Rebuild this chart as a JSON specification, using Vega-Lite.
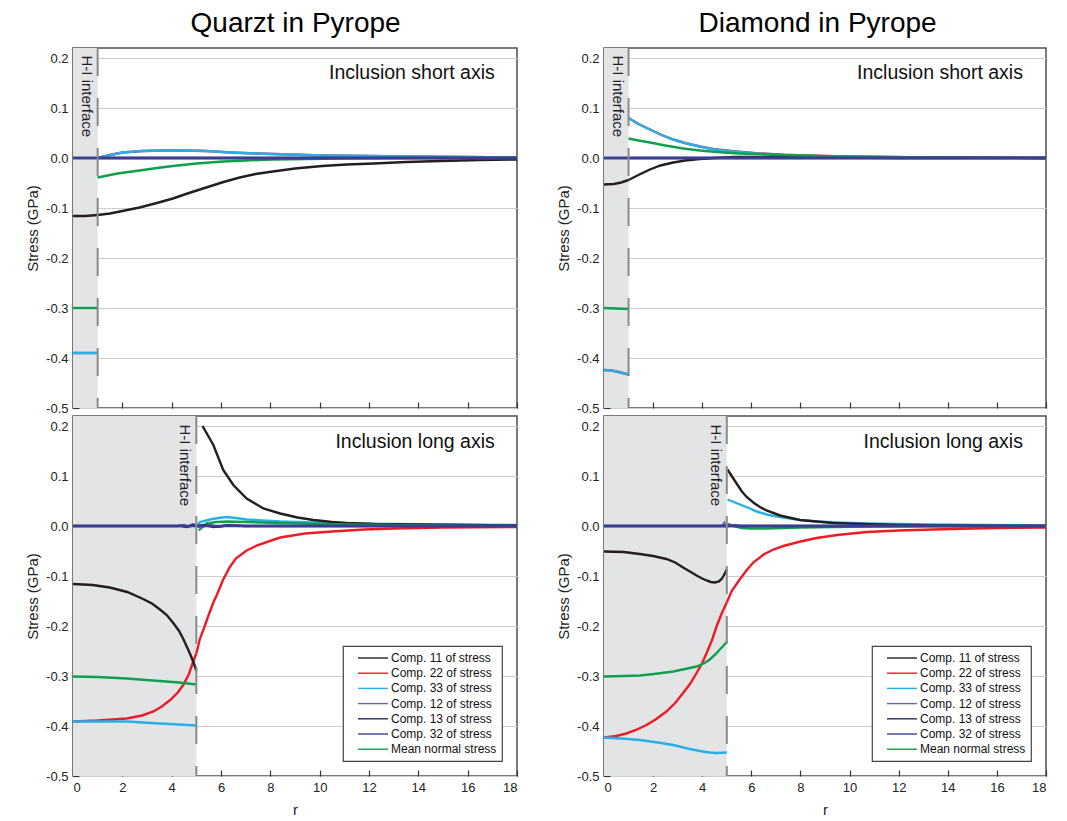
{
  "$schema": "https://vega.github.io/schema/vega-lite/v6.json",
  "background": "white",
  "padding": {"left": 24, "top": 10, "right": 8, "bottom": 0},
  "config": {
    "font": "Liberation Sans",
    "view": {"stroke": "#4d4d4d", "strokeWidth": 1.5},
    "axis": {"domain": false, "tickColor": "#333", "tickSize": -6, "tickWidth": 1.2, "labelFontSize": 13, "labelColor": "#222", "titleFontSize": 15, "titleFontWeight": "normal", "titleColor": "#222"},
    "axisX": {"labelPadding": 11, "titlePadding": 8, "grid": false},
    "axisY": {"labelPadding": 11, "titlePadding": 5},
    "legend": {"orient": "bottom-right", "offset": 15, "strokeColor": "#444", "strokeWidth": 1.2, "padding": 5, "symbolType": "M-1,0H4", "symbolSize": 144, "symbolStrokeWidth": 1.4, "symbolOffset": 9, "labelOffset": 20, "labelFontSize": 12, "labelColor": "#111", "rowPadding": 2.2, "labelLimit": 300, "fillColor": "white"},
    "title": {"fontSize": 28, "fontWeight": "normal", "color": "#000", "offset": 8, "anchor": "middle"}
  },
  "datasets": {
    "qs": [
      {"c": "Comp. 22 of stress", "g": "in", "r": 0, "v": -0.39}, {"c": "Comp. 22 of stress", "g": "in", "r": 1, "v": -0.39},
      {"c": "Comp. 22 of stress", "g": "out", "r": 1, "v": 0}, {"c": "Comp. 22 of stress", "g": "out", "r": 1.5, "v": 0.006}, {"c": "Comp. 22 of stress", "g": "out", "r": 2, "v": 0.011}, {"c": "Comp. 22 of stress", "g": "out", "r": 2.8, "v": 0.014}, {"c": "Comp. 22 of stress", "g": "out", "r": 3.65, "v": 0.015}, {"c": "Comp. 22 of stress", "g": "out", "r": 4.5, "v": 0.015}, {"c": "Comp. 22 of stress", "g": "out", "r": 5.4, "v": 0.014}, {"c": "Comp. 22 of stress", "g": "out", "r": 6.4, "v": 0.011}, {"c": "Comp. 22 of stress", "g": "out", "r": 7.4, "v": 0.009}, {"c": "Comp. 22 of stress", "g": "out", "r": 8.8, "v": 0.007}, {"c": "Comp. 22 of stress", "g": "out", "r": 10.1, "v": 0.005}, {"c": "Comp. 22 of stress", "g": "out", "r": 12, "v": 0.004}, {"c": "Comp. 22 of stress", "g": "out", "r": 13.5, "v": 0.003}, {"c": "Comp. 22 of stress", "g": "out", "r": 16, "v": 0.002}, {"c": "Comp. 22 of stress", "g": "out", "r": 18, "v": 0.001},
      {"c": "Comp. 33 of stress", "g": "in", "r": 0, "v": -0.39}, {"c": "Comp. 33 of stress", "g": "in", "r": 1, "v": -0.39},
      {"c": "Comp. 33 of stress", "g": "out", "r": 1, "v": 0}, {"c": "Comp. 33 of stress", "g": "out", "r": 1.5, "v": 0.006}, {"c": "Comp. 33 of stress", "g": "out", "r": 2, "v": 0.011}, {"c": "Comp. 33 of stress", "g": "out", "r": 2.8, "v": 0.014}, {"c": "Comp. 33 of stress", "g": "out", "r": 3.65, "v": 0.015}, {"c": "Comp. 33 of stress", "g": "out", "r": 4.5, "v": 0.015}, {"c": "Comp. 33 of stress", "g": "out", "r": 5.4, "v": 0.014}, {"c": "Comp. 33 of stress", "g": "out", "r": 6.4, "v": 0.011}, {"c": "Comp. 33 of stress", "g": "out", "r": 7.4, "v": 0.009}, {"c": "Comp. 33 of stress", "g": "out", "r": 8.8, "v": 0.007}, {"c": "Comp. 33 of stress", "g": "out", "r": 10.1, "v": 0.005}, {"c": "Comp. 33 of stress", "g": "out", "r": 12, "v": 0.004}, {"c": "Comp. 33 of stress", "g": "out", "r": 13.5, "v": 0.003}, {"c": "Comp. 33 of stress", "g": "out", "r": 16, "v": 0.002}, {"c": "Comp. 33 of stress", "g": "out", "r": 18, "v": 0.001},
      {"c": "Comp. 11 of stress", "g": "in", "r": 0, "v": -0.116}, {"c": "Comp. 11 of stress", "g": "in", "r": 0.5, "v": -0.116}, {"c": "Comp. 11 of stress", "g": "in", "r": 1, "v": -0.114},
      {"c": "Comp. 11 of stress", "g": "out", "r": 1, "v": -0.114}, {"c": "Comp. 11 of stress", "g": "out", "r": 1.5, "v": -0.111}, {"c": "Comp. 11 of stress", "g": "out", "r": 2, "v": -0.106}, {"c": "Comp. 11 of stress", "g": "out", "r": 2.7, "v": -0.099}, {"c": "Comp. 11 of stress", "g": "out", "r": 3.4, "v": -0.09}, {"c": "Comp. 11 of stress", "g": "out", "r": 4.05, "v": -0.081}, {"c": "Comp. 11 of stress", "g": "out", "r": 4.7, "v": -0.07}, {"c": "Comp. 11 of stress", "g": "out", "r": 5.4, "v": -0.059}, {"c": "Comp. 11 of stress", "g": "out", "r": 6.1, "v": -0.048}, {"c": "Comp. 11 of stress", "g": "out", "r": 6.76, "v": -0.039}, {"c": "Comp. 11 of stress", "g": "out", "r": 7.4, "v": -0.032}, {"c": "Comp. 11 of stress", "g": "out", "r": 8.1, "v": -0.027}, {"c": "Comp. 11 of stress", "g": "out", "r": 9, "v": -0.021}, {"c": "Comp. 11 of stress", "g": "out", "r": 10.1, "v": -0.016}, {"c": "Comp. 11 of stress", "g": "out", "r": 11.1, "v": -0.013}, {"c": "Comp. 11 of stress", "g": "out", "r": 12.2, "v": -0.011}, {"c": "Comp. 11 of stress", "g": "out", "r": 13.5, "v": -0.008}, {"c": "Comp. 11 of stress", "g": "out", "r": 14.9, "v": -0.006}, {"c": "Comp. 11 of stress", "g": "out", "r": 16.5, "v": -0.004}, {"c": "Comp. 11 of stress", "g": "out", "r": 18, "v": -0.003},
      {"c": "Mean normal stress", "g": "in", "r": 0, "v": -0.3}, {"c": "Mean normal stress", "g": "in", "r": 1, "v": -0.3},
      {"c": "Mean normal stress", "g": "out", "r": 1, "v": -0.039}, {"c": "Mean normal stress", "g": "out", "r": 1.8, "v": -0.031}, {"c": "Mean normal stress", "g": "out", "r": 2.7, "v": -0.025}, {"c": "Mean normal stress", "g": "out", "r": 3.4, "v": -0.02}, {"c": "Mean normal stress", "g": "out", "r": 4.05, "v": -0.016}, {"c": "Mean normal stress", "g": "out", "r": 5, "v": -0.011}, {"c": "Mean normal stress", "g": "out", "r": 6.08, "v": -0.007}, {"c": "Mean normal stress", "g": "out", "r": 7, "v": -0.005}, {"c": "Mean normal stress", "g": "out", "r": 8.1, "v": -0.003}, {"c": "Mean normal stress", "g": "out", "r": 9.5, "v": -0.002}, {"c": "Mean normal stress", "g": "out", "r": 10.8, "v": -0.001}, {"c": "Mean normal stress", "g": "out", "r": 13, "v": 0}, {"c": "Mean normal stress", "g": "out", "r": 18, "v": 0},
      {"c": "Comp. 12 of stress", "g": "in", "r": 0, "v": 0}, {"c": "Comp. 12 of stress", "g": "in", "r": 1, "v": 0}, {"c": "Comp. 12 of stress", "g": "out", "r": 1, "v": 0}, {"c": "Comp. 12 of stress", "g": "out", "r": 18, "v": 0},
      {"c": "Comp. 13 of stress", "g": "in", "r": 0, "v": 0}, {"c": "Comp. 13 of stress", "g": "in", "r": 1, "v": 0}, {"c": "Comp. 13 of stress", "g": "out", "r": 1, "v": 0}, {"c": "Comp. 13 of stress", "g": "out", "r": 18, "v": 0},
      {"c": "Comp. 32 of stress", "g": "in", "r": 0, "v": 0}, {"c": "Comp. 32 of stress", "g": "in", "r": 1, "v": 0}, {"c": "Comp. 32 of stress", "g": "out", "r": 1, "v": 0}, {"c": "Comp. 32 of stress", "g": "out", "r": 18, "v": 0}
    ],
    "ds": [
      {"c": "Comp. 22 of stress", "g": "in", "r": 0, "v": -0.424}, {"c": "Comp. 22 of stress", "g": "in", "r": 0.3, "v": -0.425}, {"c": "Comp. 22 of stress", "g": "in", "r": 0.6, "v": -0.428}, {"c": "Comp. 22 of stress", "g": "in", "r": 1, "v": -0.433},
      {"c": "Comp. 22 of stress", "g": "out", "r": 1, "v": 0.08}, {"c": "Comp. 22 of stress", "g": "out", "r": 1.4, "v": 0.068}, {"c": "Comp. 22 of stress", "g": "out", "r": 1.87, "v": 0.057}, {"c": "Comp. 22 of stress", "g": "out", "r": 2.3, "v": 0.047}, {"c": "Comp. 22 of stress", "g": "out", "r": 2.82, "v": 0.037}, {"c": "Comp. 22 of stress", "g": "out", "r": 3.3, "v": 0.03}, {"c": "Comp. 22 of stress", "g": "out", "r": 3.9, "v": 0.023}, {"c": "Comp. 22 of stress", "g": "out", "r": 4.5, "v": 0.0175}, {"c": "Comp. 22 of stress", "g": "out", "r": 5.27, "v": 0.0135}, {"c": "Comp. 22 of stress", "g": "out", "r": 6.2, "v": 0.0095}, {"c": "Comp. 22 of stress", "g": "out", "r": 7.3, "v": 0.0065}, {"c": "Comp. 22 of stress", "g": "out", "r": 8.6, "v": 0.0045}, {"c": "Comp. 22 of stress", "g": "out", "r": 10, "v": 0.003}, {"c": "Comp. 22 of stress", "g": "out", "r": 11.5, "v": 0.002}, {"c": "Comp. 22 of stress", "g": "out", "r": 13.4, "v": 0.001}, {"c": "Comp. 22 of stress", "g": "out", "r": 18, "v": 0},
      {"c": "Comp. 33 of stress", "g": "in", "r": 0, "v": -0.424}, {"c": "Comp. 33 of stress", "g": "in", "r": 0.3, "v": -0.425}, {"c": "Comp. 33 of stress", "g": "in", "r": 0.6, "v": -0.428}, {"c": "Comp. 33 of stress", "g": "in", "r": 1, "v": -0.433},
      {"c": "Comp. 33 of stress", "g": "out", "r": 1, "v": 0.08}, {"c": "Comp. 33 of stress", "g": "out", "r": 1.4, "v": 0.068}, {"c": "Comp. 33 of stress", "g": "out", "r": 1.87, "v": 0.057}, {"c": "Comp. 33 of stress", "g": "out", "r": 2.3, "v": 0.047}, {"c": "Comp. 33 of stress", "g": "out", "r": 2.82, "v": 0.037}, {"c": "Comp. 33 of stress", "g": "out", "r": 3.3, "v": 0.03}, {"c": "Comp. 33 of stress", "g": "out", "r": 3.9, "v": 0.023}, {"c": "Comp. 33 of stress", "g": "out", "r": 4.5, "v": 0.017}, {"c": "Comp. 33 of stress", "g": "out", "r": 5.27, "v": 0.013}, {"c": "Comp. 33 of stress", "g": "out", "r": 6.2, "v": 0.009}, {"c": "Comp. 33 of stress", "g": "out", "r": 7.3, "v": 0.006}, {"c": "Comp. 33 of stress", "g": "out", "r": 8.6, "v": 0.004}, {"c": "Comp. 33 of stress", "g": "out", "r": 10, "v": 0.003}, {"c": "Comp. 33 of stress", "g": "out", "r": 11.5, "v": 0.002}, {"c": "Comp. 33 of stress", "g": "out", "r": 13.4, "v": 0.001}, {"c": "Comp. 33 of stress", "g": "out", "r": 18, "v": 0},
      {"c": "Comp. 11 of stress", "g": "in", "r": 0, "v": -0.053}, {"c": "Comp. 11 of stress", "g": "in", "r": 0.4, "v": -0.052}, {"c": "Comp. 11 of stress", "g": "in", "r": 0.7, "v": -0.049}, {"c": "Comp. 11 of stress", "g": "in", "r": 1, "v": -0.044},
      {"c": "Comp. 11 of stress", "g": "out", "r": 1, "v": -0.044}, {"c": "Comp. 11 of stress", "g": "out", "r": 1.4, "v": -0.034}, {"c": "Comp. 11 of stress", "g": "out", "r": 1.87, "v": -0.023}, {"c": "Comp. 11 of stress", "g": "out", "r": 2.3, "v": -0.015}, {"c": "Comp. 11 of stress", "g": "out", "r": 2.82, "v": -0.009}, {"c": "Comp. 11 of stress", "g": "out", "r": 3.3, "v": -0.005}, {"c": "Comp. 11 of stress", "g": "out", "r": 3.9, "v": -0.002}, {"c": "Comp. 11 of stress", "g": "out", "r": 4.5, "v": 0}, {"c": "Comp. 11 of stress", "g": "out", "r": 5.27, "v": 0.002}, {"c": "Comp. 11 of stress", "g": "out", "r": 6.6, "v": 0.002}, {"c": "Comp. 11 of stress", "g": "out", "r": 8, "v": 0.0015}, {"c": "Comp. 11 of stress", "g": "out", "r": 9.3, "v": 0.001}, {"c": "Comp. 11 of stress", "g": "out", "r": 12, "v": 0}, {"c": "Comp. 11 of stress", "g": "out", "r": 18, "v": 0},
      {"c": "Mean normal stress", "g": "in", "r": 0, "v": -0.3}, {"c": "Mean normal stress", "g": "in", "r": 1, "v": -0.302},
      {"c": "Mean normal stress", "g": "out", "r": 1, "v": 0.039}, {"c": "Mean normal stress", "g": "out", "r": 1.4, "v": 0.035}, {"c": "Mean normal stress", "g": "out", "r": 1.87, "v": 0.031}, {"c": "Mean normal stress", "g": "out", "r": 2.5, "v": 0.025}, {"c": "Mean normal stress", "g": "out", "r": 3.23, "v": 0.019}, {"c": "Mean normal stress", "g": "out", "r": 3.9, "v": 0.015}, {"c": "Mean normal stress", "g": "out", "r": 4.59, "v": 0.012}, {"c": "Mean normal stress", "g": "out", "r": 5.5, "v": 0.009}, {"c": "Mean normal stress", "g": "out", "r": 6.6, "v": 0.007}, {"c": "Mean normal stress", "g": "out", "r": 8, "v": 0.005}, {"c": "Mean normal stress", "g": "out", "r": 9.3, "v": 0.003}, {"c": "Mean normal stress", "g": "out", "r": 11, "v": 0.002}, {"c": "Mean normal stress", "g": "out", "r": 13.4, "v": 0.001}, {"c": "Mean normal stress", "g": "out", "r": 18, "v": 0},
      {"c": "Comp. 12 of stress", "g": "in", "r": 0, "v": 0}, {"c": "Comp. 12 of stress", "g": "in", "r": 1, "v": 0}, {"c": "Comp. 12 of stress", "g": "out", "r": 1, "v": 0}, {"c": "Comp. 12 of stress", "g": "out", "r": 18, "v": 0},
      {"c": "Comp. 13 of stress", "g": "in", "r": 0, "v": 0}, {"c": "Comp. 13 of stress", "g": "in", "r": 1, "v": 0}, {"c": "Comp. 13 of stress", "g": "out", "r": 1, "v": 0}, {"c": "Comp. 13 of stress", "g": "out", "r": 18, "v": 0},
      {"c": "Comp. 32 of stress", "g": "in", "r": 0, "v": 0}, {"c": "Comp. 32 of stress", "g": "in", "r": 1, "v": 0}, {"c": "Comp. 32 of stress", "g": "out", "r": 1, "v": 0}, {"c": "Comp. 32 of stress", "g": "out", "r": 18, "v": 0}
    ],
    "ql": [
      {"c": "Comp. 22 of stress", "g": "in", "r": 0, "v": -0.391}, {"c": "Comp. 22 of stress", "g": "in", "r": 1, "v": -0.389}, {"c": "Comp. 22 of stress", "g": "in", "r": 2.18, "v": -0.385}, {"c": "Comp. 22 of stress", "g": "in", "r": 2.8, "v": -0.379}, {"c": "Comp. 22 of stress", "g": "in", "r": 3.26, "v": -0.371}, {"c": "Comp. 22 of stress", "g": "in", "r": 3.6, "v": -0.361}, {"c": "Comp. 22 of stress", "g": "in", "r": 3.94, "v": -0.348}, {"c": "Comp. 22 of stress", "g": "in", "r": 4.25, "v": -0.333}, {"c": "Comp. 22 of stress", "g": "in", "r": 4.48, "v": -0.317}, {"c": "Comp. 22 of stress", "g": "in", "r": 4.7, "v": -0.296}, {"c": "Comp. 22 of stress", "g": "in", "r": 4.88, "v": -0.27}, {"c": "Comp. 22 of stress", "g": "in", "r": 5, "v": -0.255},
      {"c": "Comp. 22 of stress", "g": "out", "r": 5, "v": -0.255}, {"c": "Comp. 22 of stress", "g": "out", "r": 5.15, "v": -0.225}, {"c": "Comp. 22 of stress", "g": "out", "r": 5.29, "v": -0.207}, {"c": "Comp. 22 of stress", "g": "out", "r": 5.5, "v": -0.178}, {"c": "Comp. 22 of stress", "g": "out", "r": 5.69, "v": -0.153}, {"c": "Comp. 22 of stress", "g": "out", "r": 5.83, "v": -0.138}, {"c": "Comp. 22 of stress", "g": "out", "r": 6.09, "v": -0.107}, {"c": "Comp. 22 of stress", "g": "out", "r": 6.36, "v": -0.082}, {"c": "Comp. 22 of stress", "g": "out", "r": 6.6, "v": -0.065}, {"c": "Comp. 22 of stress", "g": "out", "r": 7.04, "v": -0.049}, {"c": "Comp. 22 of stress", "g": "out", "r": 7.5, "v": -0.038}, {"c": "Comp. 22 of stress", "g": "out", "r": 8.1, "v": -0.028}, {"c": "Comp. 22 of stress", "g": "out", "r": 8.4, "v": -0.023}, {"c": "Comp. 22 of stress", "g": "out", "r": 9.4, "v": -0.015}, {"c": "Comp. 22 of stress", "g": "out", "r": 10.5, "v": -0.011}, {"c": "Comp. 22 of stress", "g": "out", "r": 11.8, "v": -0.007}, {"c": "Comp. 22 of stress", "g": "out", "r": 13, "v": -0.005}, {"c": "Comp. 22 of stress", "g": "out", "r": 15, "v": -0.003}, {"c": "Comp. 22 of stress", "g": "out", "r": 18, "v": -0.002},
      {"c": "Comp. 33 of stress", "g": "in", "r": 0, "v": -0.391}, {"c": "Comp. 33 of stress", "g": "in", "r": 1, "v": -0.391}, {"c": "Comp. 33 of stress", "g": "in", "r": 2.2, "v": -0.391}, {"c": "Comp. 33 of stress", "g": "in", "r": 3.5, "v": -0.395}, {"c": "Comp. 33 of stress", "g": "in", "r": 4.3, "v": -0.397}, {"c": "Comp. 33 of stress", "g": "in", "r": 5, "v": -0.399},
      {"c": "Comp. 33 of stress", "g": "out", "r": 5.05, "v": 0.003}, {"c": "Comp. 33 of stress", "g": "out", "r": 5.15, "v": 0.008}, {"c": "Comp. 33 of stress", "g": "out", "r": 5.56, "v": 0.013}, {"c": "Comp. 33 of stress", "g": "out", "r": 5.9, "v": 0.016}, {"c": "Comp. 33 of stress", "g": "out", "r": 6.23, "v": 0.018}, {"c": "Comp. 33 of stress", "g": "out", "r": 6.6, "v": 0.016}, {"c": "Comp. 33 of stress", "g": "out", "r": 7.04, "v": 0.013}, {"c": "Comp. 33 of stress", "g": "out", "r": 8.4, "v": 0.009}, {"c": "Comp. 33 of stress", "g": "out", "r": 9.75, "v": 0.007}, {"c": "Comp. 33 of stress", "g": "out", "r": 11.1, "v": 0.005}, {"c": "Comp. 33 of stress", "g": "out", "r": 13, "v": 0.004}, {"c": "Comp. 33 of stress", "g": "out", "r": 15, "v": 0.003}, {"c": "Comp. 33 of stress", "g": "out", "r": 18, "v": 0.002},
      {"c": "Comp. 11 of stress", "g": "in", "r": 0, "v": -0.116}, {"c": "Comp. 11 of stress", "g": "in", "r": 0.8, "v": -0.118}, {"c": "Comp. 11 of stress", "g": "in", "r": 1.49, "v": -0.123}, {"c": "Comp. 11 of stress", "g": "in", "r": 2.2, "v": -0.132}, {"c": "Comp. 11 of stress", "g": "in", "r": 2.84, "v": -0.146}, {"c": "Comp. 11 of stress", "g": "in", "r": 3.2, "v": -0.155}, {"c": "Comp. 11 of stress", "g": "in", "r": 3.5, "v": -0.166}, {"c": "Comp. 11 of stress", "g": "in", "r": 3.8, "v": -0.178}, {"c": "Comp. 11 of stress", "g": "in", "r": 4.05, "v": -0.193}, {"c": "Comp. 11 of stress", "g": "in", "r": 4.3, "v": -0.21}, {"c": "Comp. 11 of stress", "g": "in", "r": 4.48, "v": -0.227}, {"c": "Comp. 11 of stress", "g": "in", "r": 4.73, "v": -0.254}, {"c": "Comp. 11 of stress", "g": "in", "r": 4.88, "v": -0.272}, {"c": "Comp. 11 of stress", "g": "in", "r": 5, "v": -0.29},
      {"c": "Comp. 11 of stress", "g": "out", "r": 5.25, "v": 0.2}, {"c": "Comp. 11 of stress", "g": "out", "r": 5.39, "v": 0.188}, {"c": "Comp. 11 of stress", "g": "out", "r": 5.69, "v": 0.162}, {"c": "Comp. 11 of stress", "g": "out", "r": 6.09, "v": 0.112}, {"c": "Comp. 11 of stress", "g": "out", "r": 6.5, "v": 0.082}, {"c": "Comp. 11 of stress", "g": "out", "r": 7.04, "v": 0.055}, {"c": "Comp. 11 of stress", "g": "out", "r": 7.72, "v": 0.035}, {"c": "Comp. 11 of stress", "g": "out", "r": 8.4, "v": 0.025}, {"c": "Comp. 11 of stress", "g": "out", "r": 9.1, "v": 0.017}, {"c": "Comp. 11 of stress", "g": "out", "r": 9.75, "v": 0.012}, {"c": "Comp. 11 of stress", "g": "out", "r": 10.5, "v": 0.008}, {"c": "Comp. 11 of stress", "g": "out", "r": 11.1, "v": 0.006}, {"c": "Comp. 11 of stress", "g": "out", "r": 12.2, "v": 0.004}, {"c": "Comp. 11 of stress", "g": "out", "r": 14, "v": 0.003}, {"c": "Comp. 11 of stress", "g": "out", "r": 16, "v": 0.002}, {"c": "Comp. 11 of stress", "g": "out", "r": 18, "v": 0.001},
      {"c": "Mean normal stress", "g": "in", "r": 0, "v": -0.301}, {"c": "Mean normal stress", "g": "in", "r": 1, "v": -0.302}, {"c": "Mean normal stress", "g": "in", "r": 2.18, "v": -0.305}, {"c": "Mean normal stress", "g": "in", "r": 3.5, "v": -0.31}, {"c": "Mean normal stress", "g": "in", "r": 4.3, "v": -0.313}, {"c": "Mean normal stress", "g": "in", "r": 5, "v": -0.317},
      {"c": "Mean normal stress", "g": "out", "r": 5.1, "v": -0.009}, {"c": "Mean normal stress", "g": "out", "r": 5.25, "v": -0.002}, {"c": "Mean normal stress", "g": "out", "r": 5.42, "v": 0.005}, {"c": "Mean normal stress", "g": "out", "r": 5.8, "v": 0.008}, {"c": "Mean normal stress", "g": "out", "r": 6.3, "v": 0.009}, {"c": "Mean normal stress", "g": "out", "r": 7, "v": 0.008}, {"c": "Mean normal stress", "g": "out", "r": 8.4, "v": 0.006}, {"c": "Mean normal stress", "g": "out", "r": 10, "v": 0.004}, {"c": "Mean normal stress", "g": "out", "r": 11.1, "v": 0.003}, {"c": "Mean normal stress", "g": "out", "r": 13, "v": 0.002}, {"c": "Mean normal stress", "g": "out", "r": 15, "v": 0.001}, {"c": "Mean normal stress", "g": "out", "r": 18, "v": 0},
      {"c": "Comp. 12 of stress", "g": "in", "r": 0, "v": 0}, {"c": "Comp. 12 of stress", "g": "in", "r": 4.2, "v": 0}, {"c": "Comp. 12 of stress", "g": "in", "r": 4.5, "v": 0.002}, {"c": "Comp. 12 of stress", "g": "in", "r": 4.7, "v": -0.002}, {"c": "Comp. 12 of stress", "g": "in", "r": 4.9, "v": 0.003}, {"c": "Comp. 12 of stress", "g": "in", "r": 5, "v": 0},
      {"c": "Comp. 12 of stress", "g": "out", "r": 5, "v": 0}, {"c": "Comp. 12 of stress", "g": "out", "r": 5.2, "v": -0.003}, {"c": "Comp. 12 of stress", "g": "out", "r": 5.5, "v": 0.003}, {"c": "Comp. 12 of stress", "g": "out", "r": 5.9, "v": -0.002}, {"c": "Comp. 12 of stress", "g": "out", "r": 6.3, "v": 0.002}, {"c": "Comp. 12 of stress", "g": "out", "r": 7, "v": 0}, {"c": "Comp. 12 of stress", "g": "out", "r": 18, "v": 0},
      {"c": "Comp. 13 of stress", "g": "in", "r": 0, "v": 0}, {"c": "Comp. 13 of stress", "g": "in", "r": 4.4, "v": 0}, {"c": "Comp. 13 of stress", "g": "in", "r": 4.6, "v": -0.002}, {"c": "Comp. 13 of stress", "g": "in", "r": 4.85, "v": 0.003}, {"c": "Comp. 13 of stress", "g": "in", "r": 5, "v": 0},
      {"c": "Comp. 13 of stress", "g": "out", "r": 5, "v": 0}, {"c": "Comp. 13 of stress", "g": "out", "r": 5.3, "v": 0.002}, {"c": "Comp. 13 of stress", "g": "out", "r": 5.7, "v": -0.002}, {"c": "Comp. 13 of stress", "g": "out", "r": 6.2, "v": 0.001}, {"c": "Comp. 13 of stress", "g": "out", "r": 7, "v": 0}, {"c": "Comp. 13 of stress", "g": "out", "r": 18, "v": 0},
      {"c": "Comp. 32 of stress", "g": "in", "r": 0, "v": 0}, {"c": "Comp. 32 of stress", "g": "in", "r": 5, "v": 0}, {"c": "Comp. 32 of stress", "g": "out", "r": 5, "v": 0}, {"c": "Comp. 32 of stress", "g": "out", "r": 18, "v": 0}
    ],
    "dl": [
      {"c": "Comp. 22 of stress", "g": "in", "r": 0, "v": -0.423}, {"c": "Comp. 22 of stress", "g": "in", "r": 0.5, "v": -0.42}, {"c": "Comp. 22 of stress", "g": "in", "r": 0.91, "v": -0.415}, {"c": "Comp. 22 of stress", "g": "in", "r": 1.3, "v": -0.408}, {"c": "Comp. 22 of stress", "g": "in", "r": 1.73, "v": -0.398}, {"c": "Comp. 22 of stress", "g": "in", "r": 2.1, "v": -0.387}, {"c": "Comp. 22 of stress", "g": "in", "r": 2.54, "v": -0.371}, {"c": "Comp. 22 of stress", "g": "in", "r": 2.9, "v": -0.354}, {"c": "Comp. 22 of stress", "g": "in", "r": 3.22, "v": -0.334}, {"c": "Comp. 22 of stress", "g": "in", "r": 3.5, "v": -0.316}, {"c": "Comp. 22 of stress", "g": "in", "r": 3.77, "v": -0.294}, {"c": "Comp. 22 of stress", "g": "in", "r": 4, "v": -0.274}, {"c": "Comp. 22 of stress", "g": "in", "r": 4.18, "v": -0.254}, {"c": "Comp. 22 of stress", "g": "in", "r": 4.4, "v": -0.228}, {"c": "Comp. 22 of stress", "g": "in", "r": 4.59, "v": -0.2}, {"c": "Comp. 22 of stress", "g": "in", "r": 4.8, "v": -0.174}, {"c": "Comp. 22 of stress", "g": "in", "r": 5, "v": -0.153},
      {"c": "Comp. 22 of stress", "g": "out", "r": 5, "v": -0.153}, {"c": "Comp. 22 of stress", "g": "out", "r": 5.2, "v": -0.13}, {"c": "Comp. 22 of stress", "g": "out", "r": 5.54, "v": -0.106}, {"c": "Comp. 22 of stress", "g": "out", "r": 5.8, "v": -0.089}, {"c": "Comp. 22 of stress", "g": "out", "r": 6.08, "v": -0.073}, {"c": "Comp. 22 of stress", "g": "out", "r": 6.5, "v": -0.057}, {"c": "Comp. 22 of stress", "g": "out", "r": 6.9, "v": -0.047}, {"c": "Comp. 22 of stress", "g": "out", "r": 7.3, "v": -0.04}, {"c": "Comp. 22 of stress", "g": "out", "r": 8, "v": -0.031}, {"c": "Comp. 22 of stress", "g": "out", "r": 8.66, "v": -0.024}, {"c": "Comp. 22 of stress", "g": "out", "r": 9.5, "v": -0.018}, {"c": "Comp. 22 of stress", "g": "out", "r": 10.7, "v": -0.012}, {"c": "Comp. 22 of stress", "g": "out", "r": 12, "v": -0.009}, {"c": "Comp. 22 of stress", "g": "out", "r": 13.4, "v": -0.007}, {"c": "Comp. 22 of stress", "g": "out", "r": 15, "v": -0.005}, {"c": "Comp. 22 of stress", "g": "out", "r": 16.1, "v": -0.004}, {"c": "Comp. 22 of stress", "g": "out", "r": 18, "v": -0.003},
      {"c": "Comp. 33 of stress", "g": "in", "r": 0, "v": -0.423}, {"c": "Comp. 33 of stress", "g": "in", "r": 0.7, "v": -0.425}, {"c": "Comp. 33 of stress", "g": "in", "r": 1.46, "v": -0.428}, {"c": "Comp. 33 of stress", "g": "in", "r": 2.2, "v": -0.433}, {"c": "Comp. 33 of stress", "g": "in", "r": 2.82, "v": -0.438}, {"c": "Comp. 33 of stress", "g": "in", "r": 3.4, "v": -0.445}, {"c": "Comp. 33 of stress", "g": "in", "r": 3.9, "v": -0.45}, {"c": "Comp. 33 of stress", "g": "in", "r": 4.3, "v": -0.453}, {"c": "Comp. 33 of stress", "g": "in", "r": 4.59, "v": -0.454}, {"c": "Comp. 33 of stress", "g": "in", "r": 5, "v": -0.453},
      {"c": "Comp. 33 of stress", "g": "out", "r": 5.03, "v": 0.053}, {"c": "Comp. 33 of stress", "g": "out", "r": 5.54, "v": 0.043}, {"c": "Comp. 33 of stress", "g": "out", "r": 5.94, "v": 0.035}, {"c": "Comp. 33 of stress", "g": "out", "r": 6.22, "v": 0.029}, {"c": "Comp. 33 of stress", "g": "out", "r": 6.7, "v": 0.022}, {"c": "Comp. 33 of stress", "g": "out", "r": 7.3, "v": 0.017}, {"c": "Comp. 33 of stress", "g": "out", "r": 8, "v": 0.012}, {"c": "Comp. 33 of stress", "g": "out", "r": 8.66, "v": 0.009}, {"c": "Comp. 33 of stress", "g": "out", "r": 9.5, "v": 0.007}, {"c": "Comp. 33 of stress", "g": "out", "r": 10.7, "v": 0.005}, {"c": "Comp. 33 of stress", "g": "out", "r": 12, "v": 0.004}, {"c": "Comp. 33 of stress", "g": "out", "r": 13.4, "v": 0.003}, {"c": "Comp. 33 of stress", "g": "out", "r": 15.5, "v": 0.002}, {"c": "Comp. 33 of stress", "g": "out", "r": 18, "v": 0.001},
      {"c": "Comp. 11 of stress", "g": "in", "r": 0, "v": -0.051}, {"c": "Comp. 11 of stress", "g": "in", "r": 0.8, "v": -0.052}, {"c": "Comp. 11 of stress", "g": "in", "r": 1.46, "v": -0.056}, {"c": "Comp. 11 of stress", "g": "in", "r": 2, "v": -0.06}, {"c": "Comp. 11 of stress", "g": "in", "r": 2.54, "v": -0.066}, {"c": "Comp. 11 of stress", "g": "in", "r": 2.9, "v": -0.073}, {"c": "Comp. 11 of stress", "g": "in", "r": 3.22, "v": -0.083}, {"c": "Comp. 11 of stress", "g": "in", "r": 3.5, "v": -0.091}, {"c": "Comp. 11 of stress", "g": "in", "r": 3.77, "v": -0.099}, {"c": "Comp. 11 of stress", "g": "in", "r": 4, "v": -0.105}, {"c": "Comp. 11 of stress", "g": "in", "r": 4.18, "v": -0.109}, {"c": "Comp. 11 of stress", "g": "in", "r": 4.35, "v": -0.112}, {"c": "Comp. 11 of stress", "g": "in", "r": 4.52, "v": -0.113}, {"c": "Comp. 11 of stress", "g": "in", "r": 4.68, "v": -0.111}, {"c": "Comp. 11 of stress", "g": "in", "r": 4.79, "v": -0.106}, {"c": "Comp. 11 of stress", "g": "in", "r": 4.9, "v": -0.097}, {"c": "Comp. 11 of stress", "g": "in", "r": 5, "v": -0.087},
      {"c": "Comp. 11 of stress", "g": "out", "r": 5.03, "v": 0.113}, {"c": "Comp. 11 of stress", "g": "out", "r": 5.2, "v": 0.1}, {"c": "Comp. 11 of stress", "g": "out", "r": 5.4, "v": 0.085}, {"c": "Comp. 11 of stress", "g": "out", "r": 5.6, "v": 0.07}, {"c": "Comp. 11 of stress", "g": "out", "r": 5.81, "v": 0.058}, {"c": "Comp. 11 of stress", "g": "out", "r": 6.08, "v": 0.047}, {"c": "Comp. 11 of stress", "g": "out", "r": 6.35, "v": 0.038}, {"c": "Comp. 11 of stress", "g": "out", "r": 6.62, "v": 0.031}, {"c": "Comp. 11 of stress", "g": "out", "r": 7.17, "v": 0.021}, {"c": "Comp. 11 of stress", "g": "out", "r": 7.98, "v": 0.012}, {"c": "Comp. 11 of stress", "g": "out", "r": 9.34, "v": 0.006}, {"c": "Comp. 11 of stress", "g": "out", "r": 10.5, "v": 0.004}, {"c": "Comp. 11 of stress", "g": "out", "r": 12.05, "v": 0.002}, {"c": "Comp. 11 of stress", "g": "out", "r": 14, "v": 0.001}, {"c": "Comp. 11 of stress", "g": "out", "r": 18, "v": 0},
      {"c": "Mean normal stress", "g": "in", "r": 0, "v": -0.301}, {"c": "Mean normal stress", "g": "in", "r": 0.8, "v": -0.3}, {"c": "Mean normal stress", "g": "in", "r": 1.46, "v": -0.299}, {"c": "Mean normal stress", "g": "in", "r": 2.2, "v": -0.295}, {"c": "Mean normal stress", "g": "in", "r": 2.82, "v": -0.291}, {"c": "Mean normal stress", "g": "in", "r": 3.3, "v": -0.286}, {"c": "Mean normal stress", "g": "in", "r": 3.77, "v": -0.281}, {"c": "Mean normal stress", "g": "in", "r": 4.1, "v": -0.274}, {"c": "Mean normal stress", "g": "in", "r": 4.31, "v": -0.267}, {"c": "Mean normal stress", "g": "in", "r": 4.55, "v": -0.256}, {"c": "Mean normal stress", "g": "in", "r": 4.72, "v": -0.247}, {"c": "Mean normal stress", "g": "in", "r": 4.87, "v": -0.239}, {"c": "Mean normal stress", "g": "in", "r": 5, "v": -0.232},
      {"c": "Mean normal stress", "g": "out", "r": 5.03, "v": 0.004}, {"c": "Mean normal stress", "g": "out", "r": 5.3, "v": 0}, {"c": "Mean normal stress", "g": "out", "r": 5.6, "v": -0.004}, {"c": "Mean normal stress", "g": "out", "r": 6, "v": -0.005}, {"c": "Mean normal stress", "g": "out", "r": 6.62, "v": -0.005}, {"c": "Mean normal stress", "g": "out", "r": 7.3, "v": -0.004}, {"c": "Mean normal stress", "g": "out", "r": 8, "v": -0.003}, {"c": "Mean normal stress", "g": "out", "r": 9.34, "v": -0.002}, {"c": "Mean normal stress", "g": "out", "r": 10.7, "v": -0.001}, {"c": "Mean normal stress", "g": "out", "r": 13, "v": 0}, {"c": "Mean normal stress", "g": "out", "r": 18, "v": 0},
      {"c": "Comp. 12 of stress", "g": "in", "r": 0, "v": 0}, {"c": "Comp. 12 of stress", "g": "in", "r": 4.8, "v": 0}, {"c": "Comp. 12 of stress", "g": "in", "r": 4.9, "v": 0.006}, {"c": "Comp. 12 of stress", "g": "in", "r": 4.95, "v": -0.001}, {"c": "Comp. 12 of stress", "g": "in", "r": 5, "v": 0},
      {"c": "Comp. 12 of stress", "g": "out", "r": 5, "v": 0}, {"c": "Comp. 12 of stress", "g": "out", "r": 5.3, "v": 0.002}, {"c": "Comp. 12 of stress", "g": "out", "r": 5.6, "v": 0}, {"c": "Comp. 12 of stress", "g": "out", "r": 18, "v": 0},
      {"c": "Comp. 13 of stress", "g": "in", "r": 0, "v": 0}, {"c": "Comp. 13 of stress", "g": "in", "r": 5, "v": 0}, {"c": "Comp. 13 of stress", "g": "out", "r": 5, "v": 0}, {"c": "Comp. 13 of stress", "g": "out", "r": 18, "v": 0},
      {"c": "Comp. 32 of stress", "g": "in", "r": 0, "v": 0}, {"c": "Comp. 32 of stress", "g": "in", "r": 5, "v": 0}, {"c": "Comp. 32 of stress", "g": "out", "r": 5, "v": 0}, {"c": "Comp. 32 of stress", "g": "out", "r": 18, "v": 0}
    ]
  },
  "resolve": {"legend": {"color": "independent"}},
  "spacing": 36,
  "hconcat": [
    {
      "title": {"text": "Quarzt in Pyrope", "dx": 24},
      "spacing": -3,
      "resolve": {"legend": {"color": "independent"}},
      "vconcat": [
        {
          "width": 444, "height": 360,
          "layer": [
            {"data": {"values": [{"core": 0, "iface": 1}]}, "mark": {"type": "rect", "color": "#e3e4e6"},
             "encoding": {"x": {"field": "core", "type": "quantitative"}, "x2": {"field": "iface"}}},
            {"data": {"name": "qs"}, "mark": {"type": "line", "strokeWidth": 2.4, "clip": true},
             "encoding": {
               "x": {"field": "r", "type": "quantitative", "scale": {"domain": [0, 18], "nice": false}, "axis": {"title": null, "labels": false, "grid": false, "minExtent": 0, "maxExtent": 0, "values": [0, 2, 4, 6, 8, 10, 12, 14, 16, 18]}},
               "y": {"field": "v", "type": "quantitative", "scale": {"domain": [-0.5, 0.22], "nice": false}, "axis": {"title": "Stress (GPa)", "values": [-0.5, -0.4, -0.3, -0.2, -0.1, 0, 0.1, 0.2], "grid": true, "gridColor": "#cdcdcd", "labelExpr": "(datum.value < -0.001 ? '-' : '') + format(abs(datum.value), '.1f')"}},
               "color": {"field": "c", "type": "nominal", "legend": null, "scale": {"domain": ["Comp. 11 of stress", "Comp. 22 of stress", "Comp. 33 of stress", "Comp. 12 of stress", "Comp. 13 of stress", "Comp. 32 of stress", "Mean normal stress"], "range": ["#231f20", "#ed1c24", "#25b0e8", "#6a6a96", "#2a2a66", "#3a3d98", "#10a04b"]}},
               "detail": {"field": "g", "type": "nominal"}, "order": {"field": "r", "type": "quantitative"}}},
            {"data": {"values": [{"iface": 1}]}, "mark": {"type": "rule", "color": "#8a8a8a", "strokeWidth": 2, "strokeDash": [28, 22]},
             "encoding": {"x": {"field": "iface", "type": "quantitative"}}},
            {"data": {"values": [{"label": "H-I interface"}]}, "mark": {"type": "text", "angle": 90, "align": "left", "baseline": "middle", "fontSize": 15, "color": "#222"},
             "encoding": {"x": {"datum": 0.57, "type": "quantitative"}, "y": {"datum": 0.205, "type": "quantitative"}, "text": {"field": "label", "type": "nominal"}}},
            {"data": {"values": [{"label": "Inclusion short axis"}]}, "mark": {"type": "text", "align": "right", "baseline": "middle", "fontSize": 19.5, "color": "#111"},
             "encoding": {"x": {"datum": 17.1, "type": "quantitative"}, "y": {"datum": 0.17, "type": "quantitative"}, "text": {"field": "label", "type": "nominal"}}}
          ]
        },
        {
          "width": 444, "height": 360,
          "layer": [
            {"data": {"values": [{"core": 0, "iface": 5}]}, "mark": {"type": "rect", "color": "#e3e4e6"},
             "encoding": {"x": {"field": "core", "type": "quantitative"}, "x2": {"field": "iface"}}},
            {"data": {"name": "ql"}, "mark": {"type": "line", "strokeWidth": 2.4, "clip": true},
             "encoding": {
               "x": {"field": "r", "type": "quantitative", "scale": {"domain": [0, 18], "nice": false}, "axis": {"title": "r", "grid": false, "values": [0, 2, 4, 6, 8, 10, 12, 14, 16, 18]}},
               "y": {"field": "v", "type": "quantitative", "scale": {"domain": [-0.5, 0.22], "nice": false}, "axis": {"title": "Stress (GPa)", "values": [-0.5, -0.4, -0.3, -0.2, -0.1, 0, 0.1, 0.2], "grid": true, "gridColor": "#cdcdcd", "labelExpr": "(datum.value < -0.001 ? '-' : '') + format(abs(datum.value), '.1f')"}},
               "color": {"field": "c", "type": "nominal", "legend": {"title": null}, "scale": {"domain": ["Comp. 11 of stress", "Comp. 22 of stress", "Comp. 33 of stress", "Comp. 12 of stress", "Comp. 13 of stress", "Comp. 32 of stress", "Mean normal stress"], "range": ["#231f20", "#ed1c24", "#25b0e8", "#6a6a96", "#2a2a66", "#3a3d98", "#10a04b"]}},
               "detail": {"field": "g", "type": "nominal"}, "order": {"field": "r", "type": "quantitative"}}},
            {"data": {"values": [{"iface": 5}]}, "mark": {"type": "rule", "color": "#8a8a8a", "strokeWidth": 2, "strokeDash": [28, 22]},
             "encoding": {"x": {"field": "iface", "type": "quantitative"}}},
            {"data": {"values": [{"label": "H-I interface"}]}, "mark": {"type": "text", "angle": 90, "align": "left", "baseline": "middle", "fontSize": 15, "color": "#222"},
             "encoding": {"x": {"datum": 4.55, "type": "quantitative"}, "y": {"datum": 0.203, "type": "quantitative"}, "text": {"field": "label", "type": "nominal"}}},
            {"data": {"values": [{"label": "Inclusion long axis"}]}, "mark": {"type": "text", "align": "right", "baseline": "middle", "fontSize": 19.5, "color": "#111"},
             "encoding": {"x": {"datum": 17.1, "type": "quantitative"}, "y": {"datum": 0.168, "type": "quantitative"}, "text": {"field": "label", "type": "nominal"}}}
          ]
        }
      ]
    },
    {
      "title": {"text": "Diamond in Pyrope", "dx": 16},
      "spacing": -3,
      "resolve": {"legend": {"color": "independent"}},
      "vconcat": [
        {
          "width": 442, "height": 360,
          "layer": [
            {"data": {"values": [{"core": 0, "iface": 1}]}, "mark": {"type": "rect", "color": "#e3e4e6"},
             "encoding": {"x": {"field": "core", "type": "quantitative"}, "x2": {"field": "iface"}}},
            {"data": {"name": "ds"}, "mark": {"type": "line", "strokeWidth": 2.4, "clip": true},
             "encoding": {
               "x": {"field": "r", "type": "quantitative", "scale": {"domain": [0, 18], "nice": false}, "axis": {"title": null, "labels": false, "grid": false, "minExtent": 0, "maxExtent": 0, "values": [0, 2, 4, 6, 8, 10, 12, 14, 16, 18]}},
               "y": {"field": "v", "type": "quantitative", "scale": {"domain": [-0.5, 0.22], "nice": false}, "axis": {"title": "Stress (GPa)", "values": [-0.5, -0.4, -0.3, -0.2, -0.1, 0, 0.1, 0.2], "grid": true, "gridColor": "#cdcdcd", "labelExpr": "(datum.value < -0.001 ? '-' : '') + format(abs(datum.value), '.1f')"}},
               "color": {"field": "c", "type": "nominal", "legend": null, "scale": {"domain": ["Comp. 11 of stress", "Comp. 22 of stress", "Comp. 33 of stress", "Comp. 12 of stress", "Comp. 13 of stress", "Comp. 32 of stress", "Mean normal stress"], "range": ["#231f20", "#ed1c24", "#25b0e8", "#6a6a96", "#2a2a66", "#3a3d98", "#10a04b"]}},
               "detail": {"field": "g", "type": "nominal"}, "order": {"field": "r", "type": "quantitative"}}},
            {"data": {"values": [{"iface": 1}]}, "mark": {"type": "rule", "color": "#8a8a8a", "strokeWidth": 2, "strokeDash": [28, 22]},
             "encoding": {"x": {"field": "iface", "type": "quantitative"}}},
            {"data": {"values": [{"label": "H-I interface"}]}, "mark": {"type": "text", "angle": 90, "align": "left", "baseline": "middle", "fontSize": 15, "color": "#222"},
             "encoding": {"x": {"datum": 0.57, "type": "quantitative"}, "y": {"datum": 0.205, "type": "quantitative"}, "text": {"field": "label", "type": "nominal"}}},
            {"data": {"values": [{"label": "Inclusion short axis"}]}, "mark": {"type": "text", "align": "right", "baseline": "middle", "fontSize": 19.5, "color": "#111"},
             "encoding": {"x": {"datum": 17.06, "type": "quantitative"}, "y": {"datum": 0.17, "type": "quantitative"}, "text": {"field": "label", "type": "nominal"}}}
          ]
        },
        {
          "width": 442, "height": 360,
          "layer": [
            {"data": {"values": [{"core": 0, "iface": 5}]}, "mark": {"type": "rect", "color": "#e3e4e6"},
             "encoding": {"x": {"field": "core", "type": "quantitative"}, "x2": {"field": "iface"}}},
            {"data": {"name": "dl"}, "mark": {"type": "line", "strokeWidth": 2.4, "clip": true},
             "encoding": {
               "x": {"field": "r", "type": "quantitative", "scale": {"domain": [0, 18], "nice": false}, "axis": {"title": "r", "grid": false, "values": [0, 2, 4, 6, 8, 10, 12, 14, 16, 18]}},
               "y": {"field": "v", "type": "quantitative", "scale": {"domain": [-0.5, 0.22], "nice": false}, "axis": {"title": "Stress (GPa)", "values": [-0.5, -0.4, -0.3, -0.2, -0.1, 0, 0.1, 0.2], "grid": true, "gridColor": "#cdcdcd", "labelExpr": "(datum.value < -0.001 ? '-' : '') + format(abs(datum.value), '.1f')"}},
               "color": {"field": "c", "type": "nominal", "legend": {"title": null}, "scale": {"domain": ["Comp. 11 of stress", "Comp. 22 of stress", "Comp. 33 of stress", "Comp. 12 of stress", "Comp. 13 of stress", "Comp. 32 of stress", "Mean normal stress"], "range": ["#231f20", "#ed1c24", "#25b0e8", "#6a6a96", "#2a2a66", "#3a3d98", "#10a04b"]}},
               "detail": {"field": "g", "type": "nominal"}, "order": {"field": "r", "type": "quantitative"}}},
            {"data": {"values": [{"iface": 5}]}, "mark": {"type": "rule", "color": "#8a8a8a", "strokeWidth": 2, "strokeDash": [28, 22]},
             "encoding": {"x": {"field": "iface", "type": "quantitative"}}},
            {"data": {"values": [{"label": "H-I interface"}]}, "mark": {"type": "text", "angle": 90, "align": "left", "baseline": "middle", "fontSize": 15, "color": "#222"},
             "encoding": {"x": {"datum": 4.55, "type": "quantitative"}, "y": {"datum": 0.203, "type": "quantitative"}, "text": {"field": "label", "type": "nominal"}}},
            {"data": {"values": [{"label": "Inclusion long axis"}]}, "mark": {"type": "text", "align": "right", "baseline": "middle", "fontSize": 19.5, "color": "#111"},
             "encoding": {"x": {"datum": 17.06, "type": "quantitative"}, "y": {"datum": 0.168, "type": "quantitative"}, "text": {"field": "label", "type": "nominal"}}}
          ]
        }
      ]
    }
  ]
}
